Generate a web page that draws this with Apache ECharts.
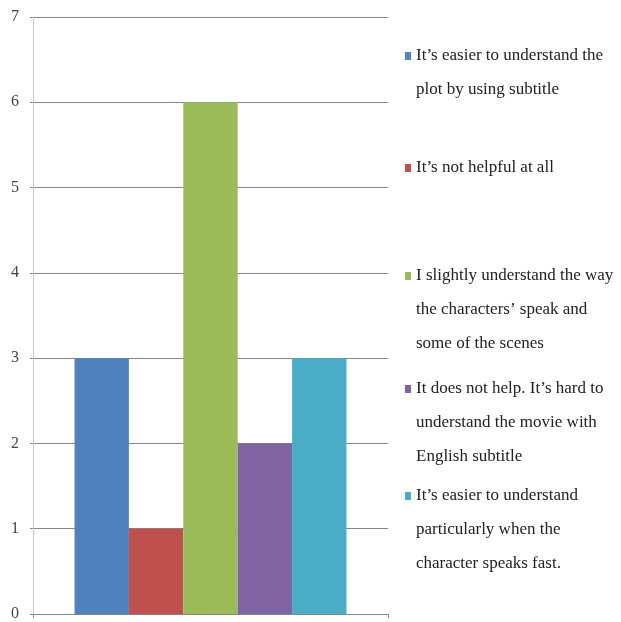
<!DOCTYPE html>
<html>
<head>
<meta charset="utf-8">
<script src="https://cdn.jsdelivr.net/npm/echarts@6/dist/echarts.min.js"></script>
<style>
html,body{margin:0;padding:0;background:#fff;}
#chart{width:621px;height:622px;}
</style>
</head>
<body>
<div id="chart"></div>
<script>
var categories = [''];
var seriesNames = [
  "It\u2019s easier to understand the\nplot by using subtitle",
  "It\u2019s not helpful at all",
  "I slightly understand the way\nthe characters\u2019 speak and\nsome of the scenes",
  "It does not help. It\u2019s hard to\nunderstand the movie with\nEnglish subtitle",
  "It\u2019s easier to understand\nparticularly when the\ncharacter speaks fast."
];
var seriesValues = [3, 1, 6, 2, 3];
var yMin = 0, yMax = 7, yStep = 1;

var colors = ['#4F81BD', '#C0504D', '#9BBB59', '#8064A2', '#4BACC6'];
var legendLineCenters = [56, 168, 276, 389, 496];
var LH = 34;

var chart = echarts.init(document.getElementById('chart'), null, {renderer: 'canvas'});

var series = seriesNames.map(function (name, i) {
  return {
    name: name,
    type: 'bar',
    data: [seriesValues[i]],
    barGap: '0%',
    barCategoryGap: '23.4%',
    itemStyle: {color: colors[i]}
  };
});

var legends = seriesNames.map(function (name, i) {
  var n = name.split('\n').length;
  return {
    data: [name],
    orient: 'vertical',
    left: 405,
    top: legendLineCenters[i] - (2 * n - 1) * LH / 2,
    padding: 0,
    icon: 'rect',
    itemWidth: 6,
    itemHeight: 8,
    selectedMode: false,
    formatter: function (nm) {
      var k = nm.split('\n').length;
      var pre = '';
      for (var j = 1; j < k; j++) pre += '\n';
      return pre + nm;
    },
    textStyle: {
      fontFamily: 'Liberation Serif',
      fontSize: 17,
      lineHeight: LH,
      color: '#222'
    }
  };
});

chart.setOption({
  animation: false,
  backgroundColor: '#fff',
  color: colors,
  grid: {left: 33, right: 233, top: 17, bottom: 6, containLabel: false},
  legend: legends,
  xAxis: {
    type: 'category',
    data: categories,
    axisLine: {show: true, lineStyle: {color: '#868686', width: 1}},
    axisTick: {show: true, length: 4, lineStyle: {color: '#868686'}},
    axisLabel: {show: false},
    splitLine: {show: false}
  },
  yAxis: {
    type: 'value',
    min: yMin,
    max: yMax,
    interval: yStep,
    axisLine: {show: true, lineStyle: {color: '#c8c8c8', width: 1}},
    axisTick: {show: true, length: 3, lineStyle: {color: '#868686'}},
    axisLabel: {
      margin: 14,
      fontFamily: 'Liberation Serif',
      fontSize: 16,
      color: '#444'
    },
    splitLine: {show: true, lineStyle: {color: '#868686', width: 1}}
  },
  series: series
});
</script>
</body>
</html>
